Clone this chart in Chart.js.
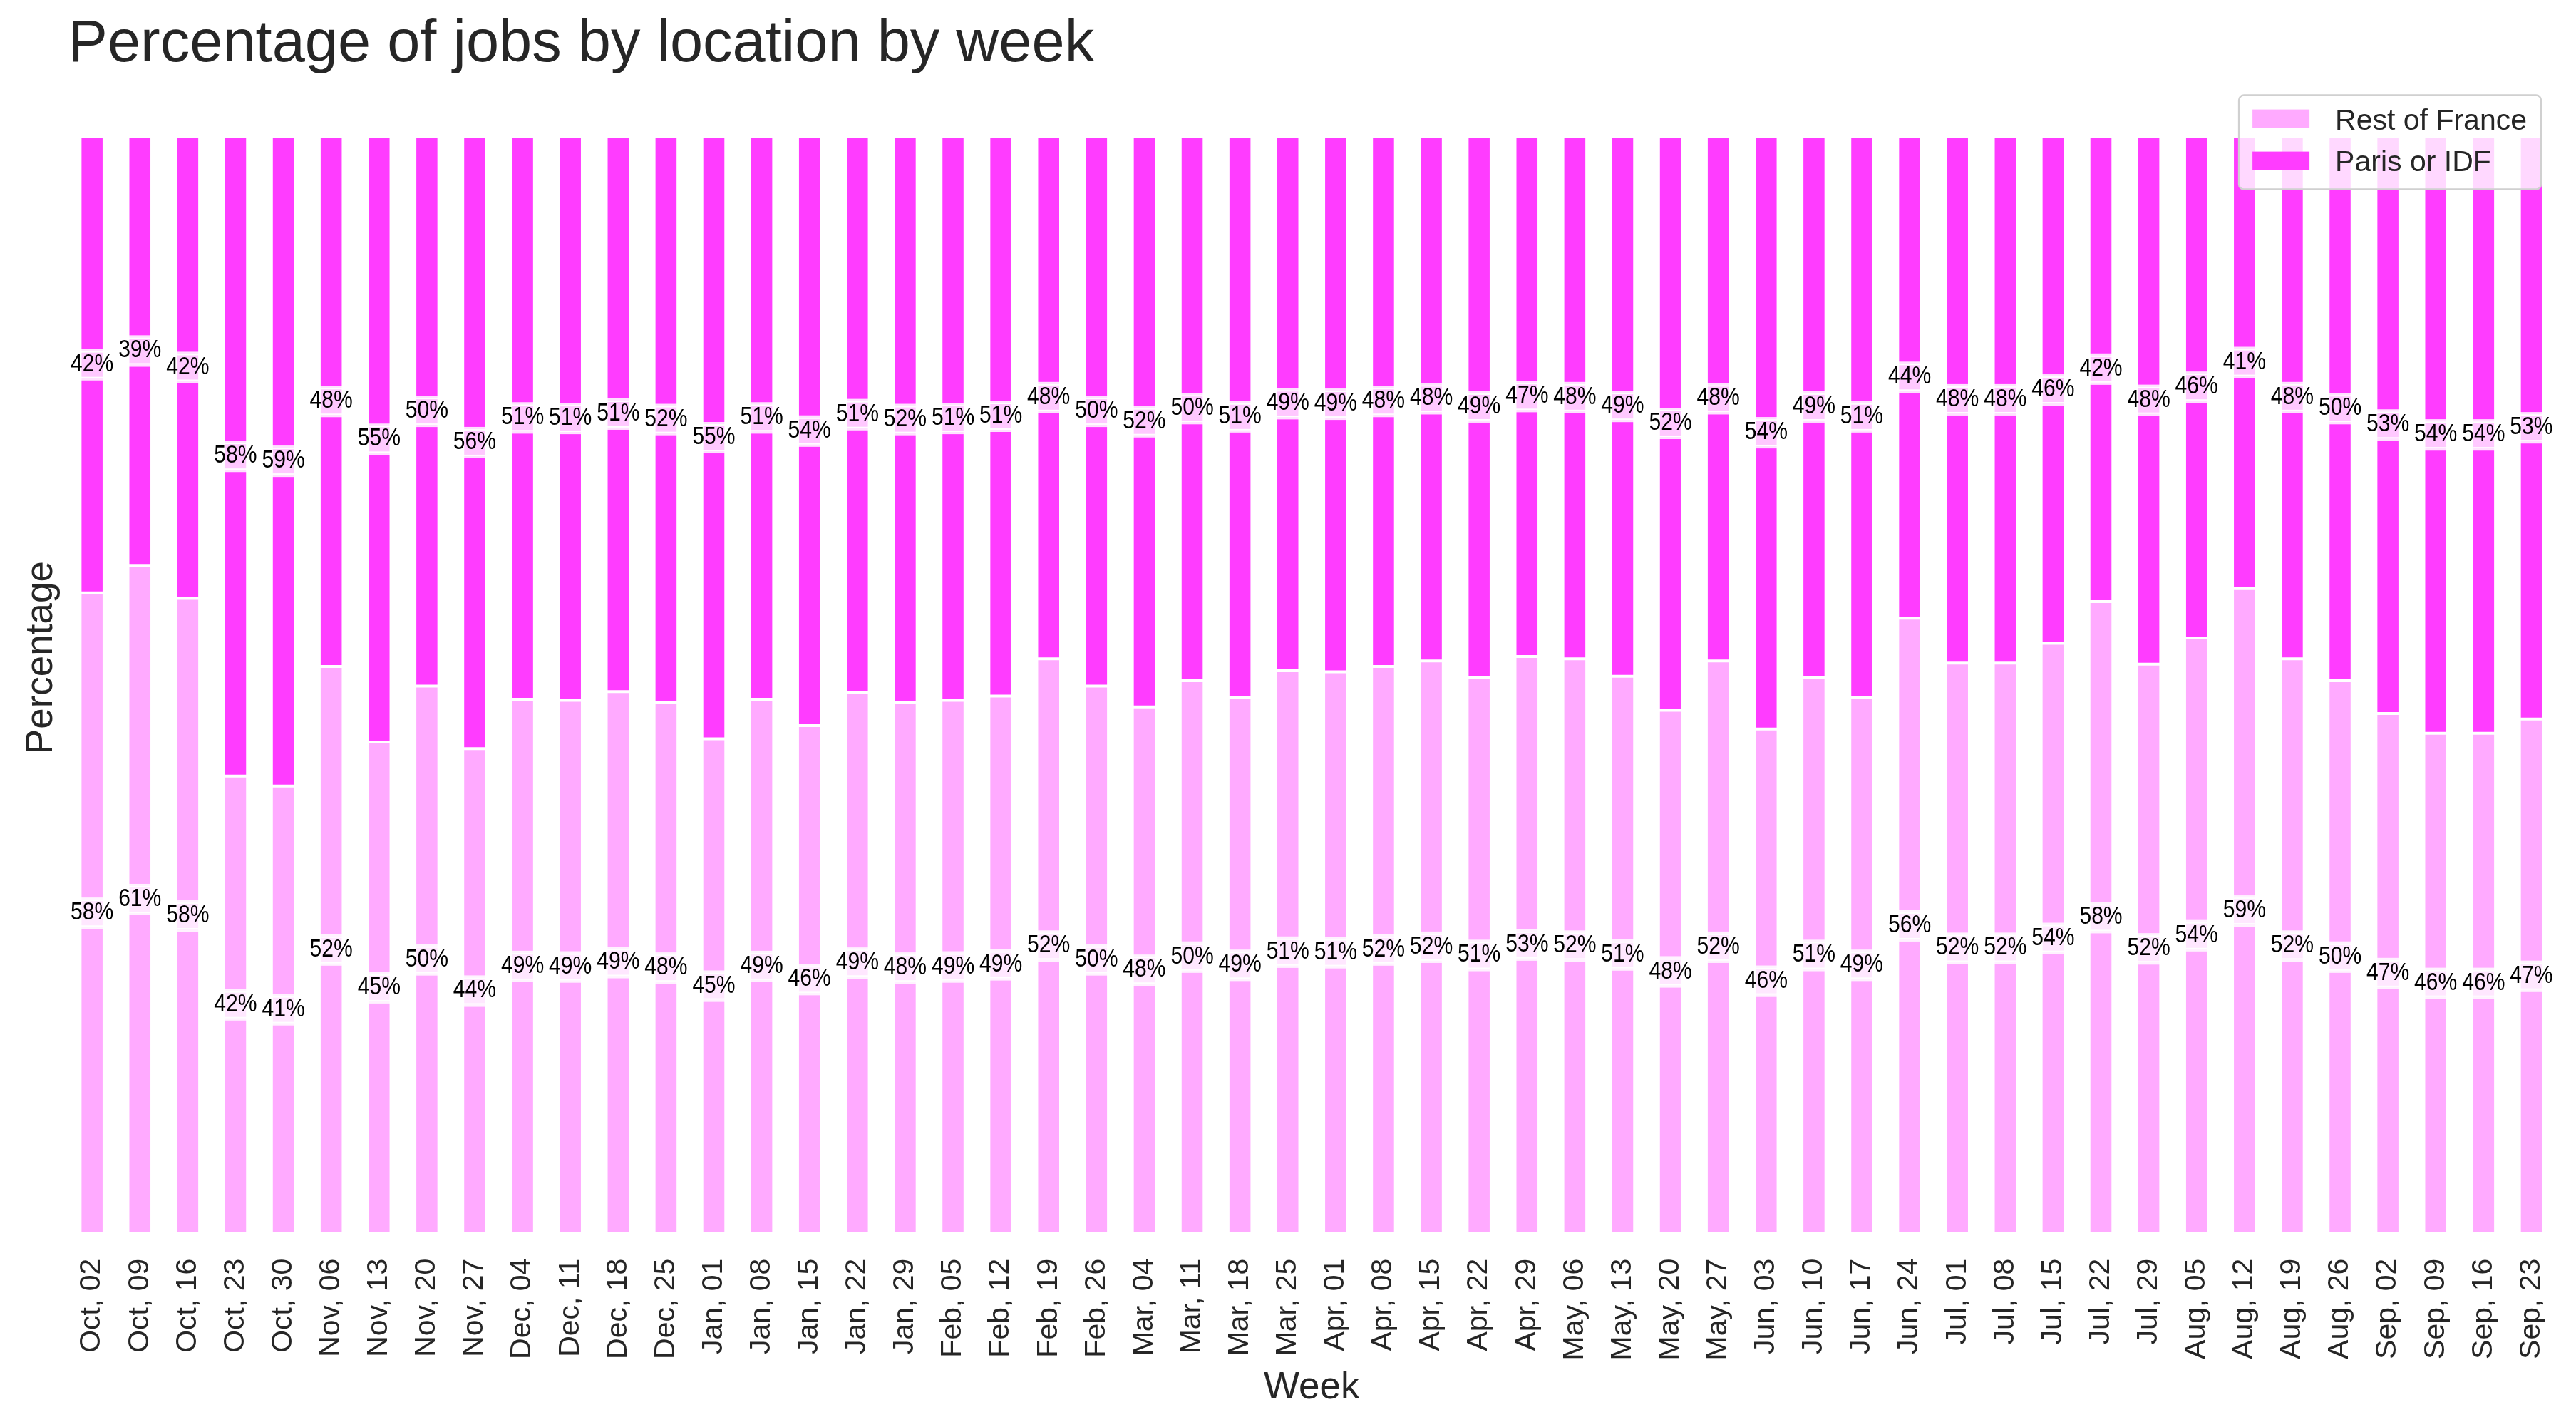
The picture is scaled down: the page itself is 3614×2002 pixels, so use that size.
<!DOCTYPE html>
<html>
<head>
<meta charset="utf-8">
<script src="https://cdn.jsdelivr.net/npm/chart.js@4/dist/chart.umd.min.js"></script>
<style>
    html, body { margin: 0; padding: 0; background: #fff; }
    #wrap { width: 3614px; height: 2002px; position: relative; }
</style>
</head>
<body>
<div id="wrap"><canvas id="jobsChart"></canvas></div>
<script>
var weeks = [
    'Oct, 02', 'Oct, 09', 'Oct, 16', 'Oct, 23', 'Oct, 30', 'Nov, 06', 'Nov, 13', 'Nov, 20', 'Nov, 27',
    'Dec, 04', 'Dec, 11', 'Dec, 18', 'Dec, 25', 'Jan, 01', 'Jan, 08', 'Jan, 15', 'Jan, 22', 'Jan, 29',
    'Feb, 05', 'Feb, 12', 'Feb, 19', 'Feb, 26', 'Mar, 04', 'Mar, 11', 'Mar, 18', 'Mar, 25', 'Apr, 01',
    'Apr, 08', 'Apr, 15', 'Apr, 22', 'Apr, 29', 'May, 06', 'May, 13', 'May, 20', 'May, 27', 'Jun, 03',
    'Jun, 10', 'Jun, 17', 'Jun, 24', 'Jul, 01', 'Jul, 08', 'Jul, 15', 'Jul, 22', 'Jul, 29', 'Aug, 05',
    'Aug, 12', 'Aug, 19', 'Aug, 26', 'Sep, 02', 'Sep, 09', 'Sep, 16', 'Sep, 23'
];

// share of job offers, in %
var restOfFrance = [
    58.4, 60.9, 57.9, 41.7, 40.8, 51.7, 44.8, 49.9, 44.2,
    48.7, 48.6, 49.4, 48.4, 45.1, 48.7, 46.3, 49.3, 48.4,
    48.6, 49.0, 52.4, 49.9, 48.0, 50.4, 48.9, 51.3, 51.2,
    51.7, 52.2, 50.7, 52.6, 52.4, 50.8, 47.7, 52.2, 46.0,
    50.7, 48.9, 56.1, 52.0, 52.0, 53.8, 57.6, 51.9, 54.3,
    58.8, 52.4, 50.4, 47.4, 45.6, 45.6, 46.9
];
var parisOrIdf = [
    41.6, 39.1, 42.1, 58.3, 59.2, 48.3, 55.2, 50.1, 55.8,
    51.3, 51.4, 50.6, 51.6, 54.9, 51.3, 53.7, 50.7, 51.6,
    51.4, 51.0, 47.6, 50.1, 52.0, 49.6, 51.1, 48.7, 48.8,
    48.3, 47.8, 49.3, 47.4, 47.6, 49.2, 52.3, 47.8, 54.0,
    49.3, 51.1, 43.9, 48.0, 48.0, 46.2, 42.4, 48.1, 45.7,
    41.2, 47.6, 49.6, 52.6, 54.4, 54.4, 53.1
];

var seriesNames = ['Rest of France', 'Paris or IDF'];
var seriesColors = ['#ffaaff', '#ff3cff'];

var textColor = '#262626';
var fontFamily = '"Liberation Sans", Arial, Helvetica, sans-serif';

// percentage written in the middle of every segment, on a light box
var barLabels = {
    id: 'barLabels',
    afterDatasetsDraw: function (chart) {
        var ctx = chart.ctx;
        var squeeze = 0.86;
        ctx.save();
        ctx.font = '35px ' + fontFamily;
        chart.data.datasets.forEach(function (ds, di) {
            var meta = chart.getDatasetMeta(di);
            meta.data.forEach(function (bar, i) {
                var text = Math.round(ds.data[i]) + '%';
                var cy = (bar.y + bar.base) / 2;
                var w = ctx.measureText(text).width * squeeze + 8;
                var h = 44;
                var x0 = bar.x - w / 2;
                var y0 = cy - h / 2;

                ctx.fillStyle = 'rgba(255,255,255,0.72)';
                ctx.fillRect(x0, y0, w, h);
                ctx.lineWidth = 3;
                ctx.strokeStyle = 'rgba(255,255,255,0.45)';
                ctx.strokeRect(x0 + 1.5, y0 + 1.5, w - 3, h - 3);
                ctx.lineWidth = 2;
                ctx.strokeStyle = 'rgba(255,255,255,0.95)';
                ctx.strokeRect(x0 + 4, y0 + 4, w - 8, h - 8);

                ctx.save();
                ctx.translate(bar.x, cy + 9);
                ctx.scale(squeeze, 1);
                ctx.fillStyle = '#000';
                ctx.textAlign = 'center';
                ctx.textBaseline = 'alphabetic';
                ctx.fillText(text, 0, 0);
                ctx.restore();
            });
        });
        ctx.restore();
    }
};

// legend box in the upper right corner of the plot
var cornerLegend = {
    id: 'cornerLegend',
    afterDraw: function (chart) {
        var ctx = chart.ctx;
        var area = chart.chartArea;
        ctx.save();
        ctx.font = '41px ' + fontFamily;
        var textW = 0;
        seriesNames.forEach(function (name) {
            textW = Math.max(textW, ctx.measureText(name).width);
        });
        var w = 19 + 80 + 36 + textW + 20;
        var h = 132;
        var right = area.right - 20;
        var left = right - w;
        var top = area.top + 19;

        ctx.beginPath();
        ctx.roundRect(left, top, w, h, 7);
        ctx.fillStyle = 'rgba(255,255,255,0.8)';
        ctx.fill();
        ctx.lineWidth = 2.5;
        ctx.strokeStyle = '#d0d0d0';
        ctx.stroke();

        seriesNames.forEach(function (name, i) {
            var rowTop = top + 20 + i * 59;
            ctx.fillStyle = seriesColors[i];
            ctx.fillRect(left + 19, rowTop, 80, 26);
            ctx.fillStyle = textColor;
            ctx.textAlign = 'left';
            ctx.textBaseline = 'alphabetic';
            ctx.fillText(name, left + 19 + 80 + 36, top + 48 + i * 58);
        });
        ctx.restore();
    }
};

function makeDataset(label, values, color) {
    return {
        label: label,
        data: values,
        backgroundColor: color,
        borderColor: '#ffffff',
        borderWidth: 2,
        borderSkipped: false,
        categoryPercentage: 1,
        barPercentage: 0.5
    };
}

window.addEventListener('DOMContentLoaded', function () {
    var el = document.getElementById('jobsChart');
    new Chart(el, {
        type: 'bar',
        data: {
            labels: weeks,
            datasets: [
                makeDataset(seriesNames[0], restOfFrance, seriesColors[0]),
                makeDataset(seriesNames[1], parisOrIdf, seriesColors[1])
            ]
        },
        plugins: [barLabels, cornerLegend],
        options: {
            responsive: true,
            maintainAspectRatio: false,
            animation: false,
            devicePixelRatio: 1,
            layout: { padding: { left: 0, right: 29, top: 0, bottom: 0 } },
            plugins: {
                legend: { display: false },
                tooltip: { enabled: false },
                title: {
                    display: true,
                    text: 'Percentage of jobs by location by week',
                    align: 'start',
                    fullSize: false,
                    color: textColor,
                    font: { family: fontFamily, size: 83, weight: 'normal' },
                    padding: { top: 13, bottom: 2 }
                }
            },
            scales: {
                x: {
                    stacked: true,
                    offset: true,
                    grid: { display: true, color: 'rgba(0,0,0,0)', drawTicks: true, tickLength: 35 },
                    border: { display: false },
                    ticks: {
                        minRotation: 90,
                        maxRotation: 90,
                        autoSkip: false,
                        padding: 0,
                        color: textColor,
                        font: { family: fontFamily, size: 41 }
                    },
                    title: {
                        display: true,
                        text: 'Week',
                        color: textColor,
                        font: { family: fontFamily, size: 53 },
                        padding: { top: 7, bottom: 23 }
                    }
                },
                y: {
                    stacked: true,
                    min: 0,
                    max: 105,
                    grid: { display: false },
                    border: { display: false },
                    ticks: { display: false },
                    title: {
                        display: true,
                        text: 'Percentage',
                        color: textColor,
                        font: { family: fontFamily, size: 53 },
                        padding: { top: 27, bottom: -3 }
                    }
                }
            }
        }
    });
});
</script>
</body>
</html>
